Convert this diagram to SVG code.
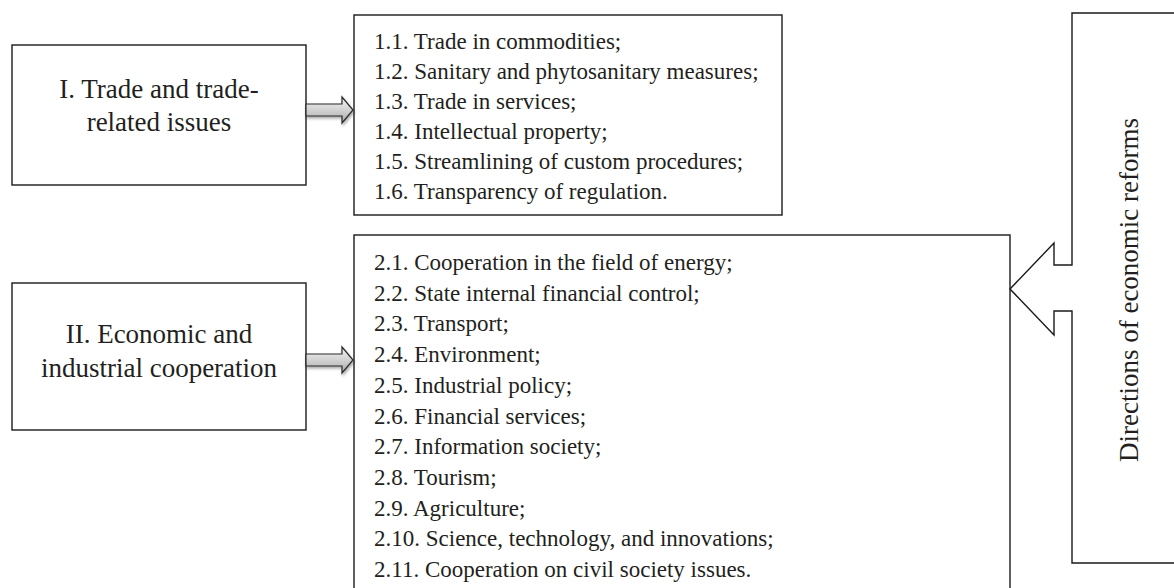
<svg xmlns="http://www.w3.org/2000/svg" width="1174" height="588" viewBox="0 0 1174 588">
  <defs>
    <linearGradient id="arrowGrad" x1="0" y1="0" x2="0" y2="1">
      <stop offset="0" stop-color="#f4f4f4"/>
      <stop offset="0.5" stop-color="#d2d2d2"/>
      <stop offset="1" stop-color="#a9a9a9"/>
    </linearGradient>
    <filter id="shadow" x="-20%" y="-40%" width="150%" height="200%">
      <feGaussianBlur in="SourceAlpha" stdDeviation="1.5"/>
      <feOffset dx="1" dy="2" result="b"/>
      <feComponentTransfer><feFuncA type="linear" slope="0.35"/></feComponentTransfer>
      <feMerge><feMergeNode/><feMergeNode in="SourceGraphic"/></feMerge>
    </filter>
  </defs>
  <style>
    .box { fill: #ffffff; stroke: #1a1a1a; stroke-width: 1.4; }
    .label { font-family: "Liberation Serif", "Times New Roman", serif; font-size: 27px; fill: #231f20; text-anchor: middle; }
    .item { font-family: "Liberation Serif", "Times New Roman", serif; font-size: 23px; fill: #231f20; }
    .vlabel { font-family: "Liberation Serif", "Times New Roman", serif; font-size: 27px; fill: #231f20; text-anchor: middle; }
    .arrow { fill: url(#arrowGrad); stroke: #2a2a2a; stroke-width: 1.2; stroke-linejoin: miter; }
  </style>
  <rect width="1174" height="588" fill="#ffffff"/>

  <g id="node-trade">
    <rect class="box" x="12" y="45" width="294" height="140"/>
    <text class="label" x="159" y="98">I. Trade and trade-</text>
    <text class="label" x="159" y="131">related issues</text>
  </g>

  <g id="node-trade-list">
    <rect class="box" x="354" y="15" width="428" height="200"/>
    <text class="item" x="374" y="49">1.1. Trade in commodities;</text>
    <text class="item" x="374" y="79">1.2. Sanitary and phytosanitary measures;</text>
    <text class="item" x="374" y="109">1.3. Trade in services;</text>
    <text class="item" x="374" y="139">1.4. Intellectual property;</text>
    <text class="item" x="374" y="169">1.5. Streamlining of custom procedures;</text>
    <text class="item" x="374" y="199">1.6. Transparency of regulation.</text>
  </g>

  <g id="node-economic">
    <rect class="box" x="12" y="283" width="294" height="147"/>
    <text class="label" x="159" y="343">II. Economic and</text>
    <text class="label" x="159" y="377">industrial cooperation</text>
  </g>

  <g id="node-economic-list">
    <rect class="box" x="354" y="235" width="656" height="380"/>
    <text class="item" x="374" y="270">2.1. Cooperation in the field of energy;</text>
    <text class="item" x="374" y="300.7">2.2. State internal financial control;</text>
    <text class="item" x="374" y="331.4">2.3. Transport;</text>
    <text class="item" x="374" y="362.1">2.4. Environment;</text>
    <text class="item" x="374" y="392.8">2.5. Industrial policy;</text>
    <text class="item" x="374" y="423.5">2.6. Financial services;</text>
    <text class="item" x="374" y="454.2">2.7. Information society;</text>
    <text class="item" x="374" y="484.9">2.8. Tourism;</text>
    <text class="item" x="374" y="515.6">2.9. Agriculture;</text>
    <text class="item" x="374" y="546.3">2.10. Science, technology, and innovations;</text>
    <text class="item" x="374" y="577">2.11. Cooperation on civil society issues.</text>
  </g>

  <g id="node-directions">
    <path class="box" d="M1180,13 H1072 V265 H1054 V243 L1010,289 L1054,335 V311 H1072 V563 H1180"/>
    <text class="vlabel" transform="translate(1138,290) rotate(-90)">Directions of economic reforms</text>
  </g>

  <g id="connectors">
    <path class="arrow" filter="url(#shadow)" d="M306,104 H342 V97 L353,110 L342,123 V116 H306 Z"/>
    <path class="arrow" filter="url(#shadow)" d="M306,354 H342 V347 L353,360 L342,373 V366 H306 Z"/>
  </g>
</svg>
